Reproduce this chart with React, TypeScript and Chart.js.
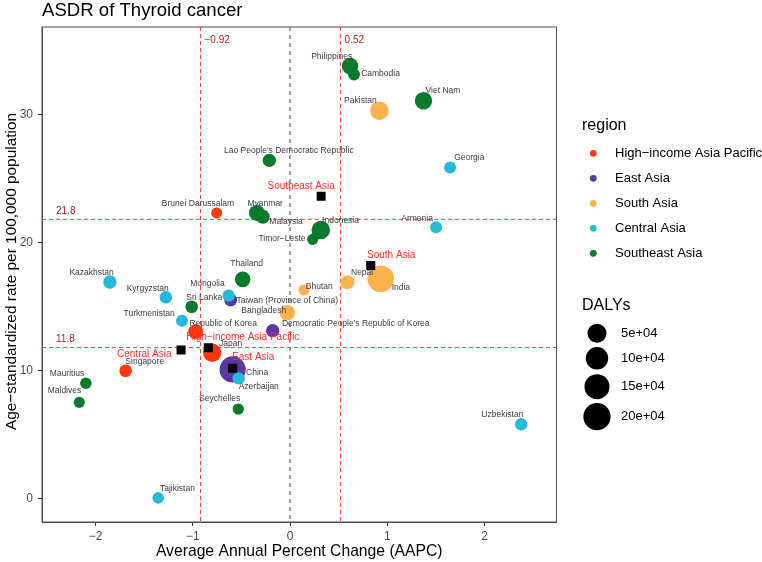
import { useEffect, useRef } from "react";
import { Chart, registerables } from "chart.js";
Chart.register(...registerables);

const FONT = "'Liberation Sans', Arial, Helvetica, sans-serif";

const TITLE = "ASDR of Thyroid cancer";
const X_TITLE = "Average Annual Percent Change (AAPC)";
const Y_TITLE = "Age\u2212standardized rate per 100,000 population";

const REGIONS = ["High\u2212income Asia Pacific", "East Asia", "South Asia", "Central Asia", "Southeast Asia"];
const REGION_COLORS = ["#FF3A0A", "#5B37A0", "#FDB24B", "#27B9DC", "#0B7A2C"];
const REGION_AAPC = [-0.84, -0.59, 0.83, -1.12, 0.32];
const REGION_ASDR = [11.79, 10.19, 18.2, 11.61, 23.6];
const REGION_LABELS = ["High\u2212income Asia Pacific", "East Asia", "South Asia", "Central Asia", "Southeast Asia"];

const COUNTRIES = [
  "Japan", "Republic of Korea", "Singapore", "Brunei Darussalam",
  "China", "Taiwan (Province of China)", "Democratic People's Republic of Korea",
  "India", "Pakistan", "Bangladesh", "Nepal", "Bhutan",
  "Kazakhstan", "Kyrgyzstan", "Turkmenistan", "Mongolia", "Azerbaijan", "Armenia", "Georgia", "Uzbekistan", "Tajikistan",
  "Philippines", "Cambodia", "Viet Nam", "Lao People's Democratic Republic", "Myanmar", "Malaysia", "Indonesia",
  "Timor\u2212Leste", "Thailand", "Sri Lanka", "Mauritius", "Maldives", "Seychelles",
];
const COUNTRY_REGION = [
  0, 0, 0, 0,
  1, 1, 1,
  2, 2, 2, 2, 2,
  3, 3, 3, 3, 3, 3, 3, 3, 3,
  4, 4, 4, 4, 4, 4, 4,
  4, 4, 4, 4, 4, 4,
];
const AAPC = [
  -0.80, -0.97, -1.69, -0.754,
  -0.59, -0.61, -0.178,
  0.933, 0.919, -0.028, 0.59, 0.144,
  -1.852, -1.276, -1.111, -0.631, -0.528, 1.502, 1.646, 2.377, -1.355,
  0.617, 0.658, 1.372, -0.213, -0.34, -0.28, 0.316,
  0.233, -0.487, -1.011, -2.099, -2.167, -0.532,
];
const ASDR = [
  11.4, 13.04, 10.0, 22.3,
  10.1, 15.51, 13.12,
  17.17, 30.27, 14.52, 16.9, 16.29,
  16.91, 15.72, 13.9, 15.85, 9.4, 21.18, 25.85, 5.82, 0.08,
  33.75, 33.1, 31.05, 26.4, 22.3, 22.0, 20.97,
  20.24, 17.12, 14.99, 9.02, 7.53, 7.01,
];
const DALYS = [
  43000, 13500, 2600, 70,
  175000, 3900, 5300,
  185000, 46000, 16000, 8000, 70,
  5300, 2600, 1200, 2100, 2100, 1200, 1200, 2100, 600,
  25000, 1200, 33000, 5300, 20500, 8000, 45000,
  200, 17500, 2600, 600, 200, 200,
];

const X_TICKS = [-2, -1, 0, 1, 2];
const Y_TICKS = [0, 10, 20, 30];
const AAPC_CUTS = [-0.92, 0.52];
const ASDR_CUTS = [21.8, 11.8];
const SIZE_BREAKS = [50000, 100000, 150000, 200000];
const SIZE_LABELS = ["5e+04", "10e+04", "15e+04", "20e+04"];

// label placement (pixel offsets from the point centre)
const LABEL_OFFSETS: [number, number][] = [
  [18.4, -9.4], [27.5, -8.4], [19.1, -9.4], [-18.7, -9],
  [24.5, 3], [56.5, 0.7], [83, -7.4],
  [20.1, 9.3], [-19, -9.7], [-23.5, -2], [14.7, -9.3], [15.3, -3.3],
  [-18.3, -9.7], [-18.2, -9], [-32.8, -6.7], [-21.2, -11.7], [20.1, 8.4], [-19, -9], [19.2, -9.3], [-18.8, -9.3], [19.2, -9],
  [-18.3, -9.3], [26.5, -0.7], [19.5, -10], [19.5, -10], [8.3, -9], [23.3, 5], [19.8, -9],
  [-30.7, -0.6], [4, -16], [12.5, -9.4], [-18.8, -9.3], [-14.8, -11.6], [-18.6, -10],
];
const REGION_LABEL_OFFSETS: [number, number][] = [
  [34.5, -10.7], [20.6, -11], [20.5, -10.3], [-36.8, 4.3], [-20, -10],
];

const sizeOf = (d: number) => 5.35 + 1.85 * Math.sqrt(d / 10000);
const fmt = (v: number) => (v < 0 ? "\u2212" + Math.abs(v) : String(v));

const overlayPlugin = {
  id: "overlay",
  beforeDatasetsDraw(chart: any) {
    const { ctx, chartArea: a, scales } = chart;
    const xs = scales.x, ys = scales.y;
    ctx.save();
    ctx.beginPath();
    ctx.rect(a.left, a.top, a.right - a.left, a.bottom - a.top);
    ctx.clip();
    ctx.strokeStyle = "#858585";
    ctx.lineWidth = 1.5;
    ctx.setLineDash([4, 4]);
    const x0 = xs.getPixelForValue(0);
    ctx.beginPath();
    ctx.moveTo(x0, a.top);
    ctx.lineTo(x0, a.bottom);
    ctx.stroke();
    ctx.strokeStyle = "#FF3B3B";
    ctx.lineWidth = 1;
    ctx.setLineDash([4, 3]);
    AAPC_CUTS.forEach((v) => {
      const px = xs.getPixelForValue(v);
      ctx.beginPath();
      ctx.moveTo(px, a.top);
      ctx.lineTo(px, a.bottom);
      ctx.stroke();
    });
    ASDR_CUTS.forEach((v) => {
      const py = ys.getPixelForValue(v);
      ctx.beginPath();
      ctx.moveTo(a.left, py);
      ctx.lineTo(a.right, py);
      ctx.stroke();
    });
    ctx.setLineDash([]);
    ctx.fillStyle = "#B22222";
    ctx.font = `10px ${FONT}`;
    ctx.textBaseline = "middle";
    ctx.textAlign = "left";
    AAPC_CUTS.forEach((v) => {
      ctx.fillText(fmt(v), xs.getPixelForValue(v) + 4, a.top + 13);
    });
    ASDR_CUTS.forEach((v) => {
      ctx.fillText(String(v), a.left + 14, ys.getPixelForValue(v) - 8.6);
    });
    ctx.restore();
  },
  afterDatasetsDraw(chart: any) {
    const { ctx, chartArea: a, scales } = chart;
    const xs = scales.x, ys = scales.y;
    ctx.save();
    ctx.textAlign = "center";
    ctx.textBaseline = "middle";
    ctx.font = `8.5px ${FONT}`;
    ctx.fillStyle = "#3d3d3d";
    COUNTRIES.forEach((name, i) => {
      const [dx, dy] = LABEL_OFFSETS[i];
      ctx.fillText(name, xs.getPixelForValue(AAPC[i]) + dx, ys.getPixelForValue(ASDR[i]) + dy);
    });
    ctx.font = `10px ${FONT}`;
    ctx.fillStyle = "#FF2D2D";
    REGION_LABELS.forEach((name, i) => {
      const [dx, dy] = REGION_LABEL_OFFSETS[i];
      ctx.fillText(name, xs.getPixelForValue(REGION_AAPC[i]) + dx, ys.getPixelForValue(REGION_ASDR[i]) + dy);
    });
    ctx.strokeStyle = "#4d4d4d";
    ctx.lineWidth = 1;
    ctx.strokeRect(a.left, a.top, a.right - a.left, a.bottom - a.top);
    ctx.restore();
  },
  afterDraw(chart: any) {
    const { ctx, chartArea: a } = chart;
    ctx.save();
    ctx.fillStyle = "#000";
    ctx.textBaseline = "middle";
    ctx.textAlign = "left";
    ctx.font = `18.6px ${FONT}`;
    ctx.fillText(TITLE, a.left, 11);
    ctx.font = `15.7px ${FONT}`;
    ctx.textAlign = "center";
    ctx.fillText(X_TITLE, (a.left + a.right) / 2, 552);
    ctx.save();
    ctx.translate(12, (a.top + a.bottom) / 2 - 3);
    ctx.rotate(-Math.PI / 2);
    ctx.font = `15.4px ${FONT}`;
    ctx.fillText(Y_TITLE, 0, 0);
    ctx.restore();
    ctx.textAlign = "left";
    ctx.font = `16px ${FONT}`;
    ctx.fillText("region", 582, 126);
    ctx.font = `13px ${FONT}`;
    REGIONS.forEach((r, i) => {
      const y = 153.3 + i * 25;
      ctx.fillStyle = REGION_COLORS[i];
      ctx.beginPath();
      ctx.arc(593.3, y, 3.4, 0, Math.PI * 2);
      ctx.fill();
      ctx.fillStyle = "#000";
      ctx.fillText(r, 615, y);
    });
    ctx.font = `16px ${FONT}`;
    ctx.fillText("DALYs", 582, 306);
    ctx.font = `13px ${FONT}`;
    const sy = [333.3, 358.3, 386.7, 416.7];
    SIZE_BREAKS.forEach((b, i) => {
      ctx.fillStyle = "#000";
      ctx.beginPath();
      ctx.arc(597, sy[i], sizeOf(b), 0, Math.PI * 2);
      ctx.fill();
      ctx.fillText(SIZE_LABELS[i], 621, sy[i]);
    });
    ctx.restore();
  },
};

export default function App() {
  const ref = useRef<HTMLCanvasElement | null>(null);
  useEffect(() => {
    if (!ref.current) return;
    const chart = new Chart(ref.current, {
      type: "bubble",
      data: {
        datasets: [
          {
            data: COUNTRIES.map((_, i) => ({ x: AAPC[i], y: ASDR[i], r: sizeOf(DALYS[i]) })),
            backgroundColor: COUNTRIES.map((_, i) => REGION_COLORS[COUNTRY_REGION[i]]),
            borderWidth: 0,
            order: 2,
          } as any,
          {
            data: REGIONS.map((_, i) => ({ x: REGION_AAPC[i], y: REGION_ASDR[i], r: 6.4 })),
            backgroundColor: "#000",
            borderWidth: 0,
            pointStyle: "rect",
            order: 1,
          } as any,
        ],
      },
      options: {
        animation: false,
        responsive: false,
        events: [],
        layout: { padding: { top: 27, right: 205.5, bottom: 0, left: 0 } },
        plugins: { legend: { display: false }, tooltip: { enabled: false }, title: { display: false } },
        scales: {
          x: {
            type: "linear",
            min: -2.55,
            max: 2.74,
            afterBuildTicks: (s: any) => { s.ticks = X_TICKS.map((v) => ({ value: v })); },
            afterFit: (s: any) => { s.height = 40; },
            grid: { drawOnChartArea: false, drawTicks: true, tickLength: 4, color: "#333" },
            border: { display: true, color: "#4d4d4d" },
            ticks: { color: "#4d4d4d", font: { family: FONT, size: 12 }, padding: 3, callback: (v: any) => fmt(Number(v)) },
          },
          y: {
            type: "linear",
            min: -1.8,
            max: 36.8,
            afterBuildTicks: (s: any) => { s.ticks = Y_TICKS.map((v) => ({ value: v })); },
            afterFit: (s: any) => { s.width = 42; },
            grid: { drawOnChartArea: false, drawTicks: true, tickLength: 4, color: "#333" },
            border: { display: true, color: "#4d4d4d" },
            ticks: { color: "#4d4d4d", font: { family: FONT, size: 12 }, padding: 5, callback: (v: any) => fmt(Number(v)) },
          },
        },
      },
      plugins: [overlayPlugin],
    });
    return () => chart.destroy();
  }, []);
  return (
    <div style={{ position: "fixed", left: 0, top: 0, width: 762, height: 562, background: "#fff" }}>
      <canvas ref={ref} width={762} height={562} />
    </div>
  );
}
